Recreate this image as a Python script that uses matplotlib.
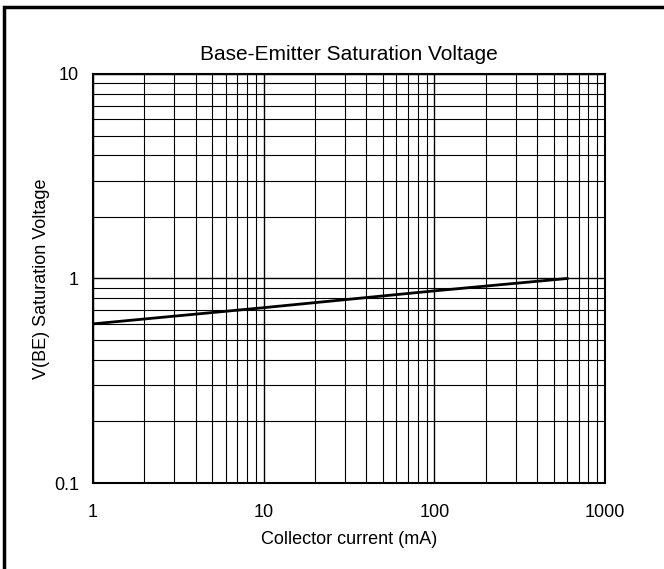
import matplotlib
matplotlib.use("Agg")
import matplotlib.pyplot as plt
from matplotlib.patches import Rectangle
from matplotlib.ticker import LogLocator, NullFormatter, FixedFormatter, FixedLocator

# Data
current_ma = [1, 10, 100, 600]
vbe_sat = [0.6, 0.72, 0.87, 1.0]

x_ticks = [1, 10, 100, 1000]
x_tick_labels = ["1", "10", "100", "1000"]
y_ticks = [0.1, 1, 10]
y_tick_labels = ["0.1", "1", "10"]

plt.rcParams["font.family"] = ["Liberation Sans", "DejaVu Sans"]

fig = plt.figure(figsize=(6.64, 5.69), dpi=100)
ax = fig.add_axes([93 / 664, 1 - 483 / 569, 512 / 664, 409 / 569])

ax.set_xscale("log")
ax.set_yscale("log")
ax.set_xlim(1, 1000)
ax.set_ylim(0.1, 10)

ax.plot(current_ma, vbe_sat, color="black", linewidth=2.0, zorder=3)

# Grid lines
ax.xaxis.set_major_locator(FixedLocator(x_ticks))
ax.xaxis.set_major_formatter(FixedFormatter(x_tick_labels))
ax.yaxis.set_major_locator(FixedLocator(y_ticks))
ax.yaxis.set_major_formatter(FixedFormatter(y_tick_labels))
ax.xaxis.set_minor_locator(LogLocator(base=10, subs=range(2, 10)))
ax.yaxis.set_minor_locator(LogLocator(base=10, subs=range(2, 10)))
ax.xaxis.set_minor_formatter(NullFormatter())
ax.yaxis.set_minor_formatter(NullFormatter())
ax.grid(which="major", color="black", linewidth=1.0)
ax.grid(which="minor", color="black", linewidth=0.8)
ax.tick_params(which="both", length=0, labelsize=13)
ax.tick_params(axis="x", pad=15)
ax.tick_params(axis="y", pad=10)

for s in ax.spines.values():
    s.set_linewidth(1.5)
    s.set_color("black")

ax.set_title("Base-Emitter Saturation Voltage", fontsize=15, pad=10)
ax.set_xlabel("Collector current (mA)", fontsize=13, labelpad=7)
ax.set_ylabel("V(BE) Saturation Voltage", fontsize=13, labelpad=3)

# Outer frame
fig.patches.append(Rectangle((4 / 664, -0.1), 1.2, 1 - 7 / 569 + 0.1,
                             transform=fig.transFigure, fill=False,
                             edgecolor="black", linewidth=2.5))

fig.savefig("out.png", dpi=100)
